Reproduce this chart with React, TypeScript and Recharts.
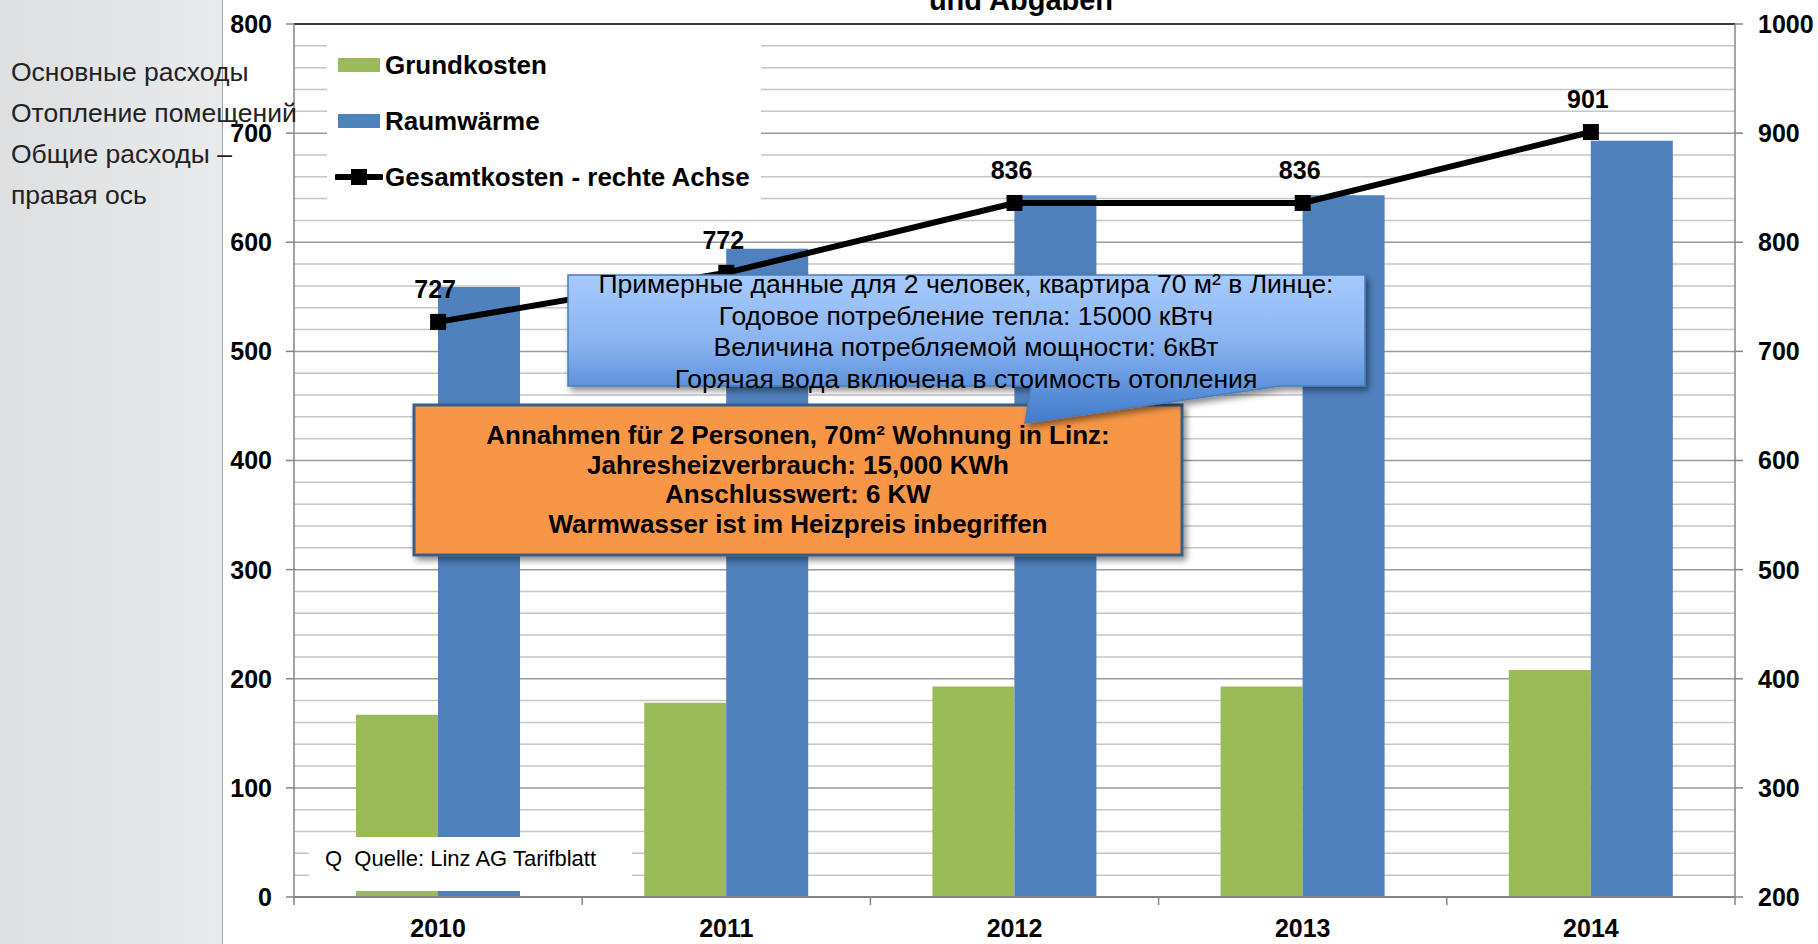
import React from "react";
import {
  ComposedChart,
  Bar,
  Line,
  XAxis,
  YAxis,
  CartesianGrid,
  Legend,
  ReferenceLine,
  LabelList,
} from "recharts";

const YEARS = ["2010", "2011", "2012", "2013", "2014"];
const GRUNDKOSTEN = [167, 178, 193, 193, 208];
const RAUMWAERME = [559, 594, 643, 643, 693];
const GESAMTKOSTEN = [727, 772, 836, 836, 901];

const LEFT_TICKS = [0, 100, 200, 300, 400, 500, 600, 700, 800];
const RIGHT_TICKS = [200, 300, 400, 500, 600, 700, 800, 900, 1000];
// minor grid every 20 on the left axis
const MINOR_GRID = Array.from({ length: 41 }, (_, i) => i * 20).filter((v) => v % 100 !== 0);

const NOTE_RU = [
  "Примерные данные для 2 человек, квартира 70 м² в Линце:",
  "Годовое потребление тепла: 15000 кВтч",
  "Величина потребляемой мощности: 6кВт",
  "Горячая вода включена в стоимость отопления",
];
const NOTE_DE = [
  "Annahmen für 2 Personen, 70m² Wohnung in Linz:",
  "Jahresheizverbrauch: 15,000 KWh",
  "Anschlusswert: 6 KW",
  "Warmwasser ist im Heizpreis inbegriffen",
];
const SIDE_NOTES = ["Основные расходы", "Отопление помещений", "Общие расходы –", "правая ось"];

const FONT = "'Liberation Sans', Arial, sans-serif";
const GREEN = "#9bbb59";
const BLUE = "#4f81bd";
const AXIS = "#868686";

const data = YEARS.map((year, i) => ({
  year,
  grund: GRUNDKOSTEN[i],
  raum: RAUMWAERME[i],
  gesamt: GESAMTKOSTEN[i],
}));

// category label plus Excel-style tick marks on the category borders
const XTick = (props: any) => {
  const { x, y, payload, index, visibleTicksCount } = props;
  const half =
    (payload && payload.offset) ||
    (props.width && visibleTicksCount ? props.width / visibleTicksCount / 2 : 144);
  const last = index === visibleTicksCount - 1;
  return (
    <g>
      <line x1={x - half} x2={x - half} y1={y} y2={y + 8} stroke={AXIS} strokeWidth={1.5} />
      {last && (
        <line x1={x + half} x2={x + half} y1={y} y2={y + 8} stroke={AXIS} strokeWidth={1.5} />
      )}
      <text
        x={x}
        y={y + 40}
        textAnchor="middle"
        fontSize={25}
        fontWeight={700}
        fontFamily={FONT}
        fill="#000"
      >
        {payload.value}
      </text>
    </g>
  );
};

const SquareDot = (props: any) => {
  const { cx, cy } = props;
  if (cx == null || cy == null) return null;
  return <rect x={cx - 8} y={cy - 8} width={16} height={16} fill="#000" />;
};

const LineLabel = (props: any) => {
  const x = props.x ?? props.viewBox?.x;
  const y = props.y ?? props.viewBox?.y;
  return (
    <text
      x={x - 3}
      y={y - 24}
      textAnchor="middle"
      fontSize={25}
      fontWeight={700}
      fontFamily={FONT}
      fill="#000"
    >
      {props.value}
    </text>
  );
};

const renderLegend = (props: any) => {
  // bars first, the line entry last
  const items = [...(props.payload || [])].sort(
    (a: any, b: any) => (a.type === "line" ? 1 : 0) - (b.type === "line" ? 1 : 0)
  );
  return (
    <div
      style={{
        background: "#fff",
        width: 434,
        height: 176,
        paddingTop: 1,
        boxSizing: "border-box",
        fontFamily: FONT,
      }}
    >
      {items.map((entry: any, i: number) => (
        <div key={i} style={{ display: "flex", alignItems: "center", height: 56 }}>
          <svg width={48} height={16} style={{ marginLeft: 8 }}>
            {entry.type === "line" ? (
              <g>
                <line x1={2} x2={46} y1={8} y2={8} stroke="#000" strokeWidth={6} strokeLinecap="round" />
                <rect x={16} y={0} width={16} height={16} fill="#000" />
              </g>
            ) : (
              <rect x={3} y={1} width={42} height={14} fill={entry.color} />
            )}
          </svg>
          <span
            style={{
              marginLeft: 2,
              fontSize: 26,
              fontWeight: 700,
              color: "#000",
              whiteSpace: "nowrap",
            }}
          >
            {entry.value}
          </span>
        </div>
      ))}
    </div>
  );
};

export default function App() {
  return (
    <div
      style={{
        position: "absolute",
        left: 0,
        top: 0,
        width: 1818,
        height: 944,
        overflow: "hidden",
        background: "#fff",
        fontFamily: FONT,
      }}
    >
      <div
        style={{
          position: "absolute",
          left: 0,
          top: 0,
          width: 222,
          height: 944,
          background: "linear-gradient(to right, #dedfe1 0%, #e9eaeb 100%)",
          borderRight: "1px solid #a2a2a2",
        }}
      />
      <div style={{ position: "absolute", left: 0, top: 0 }}>
        <ComposedChart
          width={1818}
          height={944}
          data={data}
          margin={{ top: 24, right: 0, bottom: 0, left: 0 }}
          barGap={0}
        >
          <CartesianGrid
            yAxisId="left"
            vertical={false}
            horizontalValues={MINOR_GRID}
            stroke="#c6c6c6"
            strokeWidth={1.5}
          />
          <CartesianGrid
            yAxisId="left"
            vertical={false}
            horizontalValues={LEFT_TICKS}
            stroke="#9a9a9a"
            strokeWidth={1.5}
          />
          <XAxis
            dataKey="year"
            height={47}
            interval={0}
            tickLine={false}
            tickSize={0}
            tickMargin={0}
            axisLine={{ stroke: AXIS, strokeWidth: 2 }}
            tick={<XTick />}
          />
          <YAxis
            yAxisId="left"
            domain={[0, 800]}
            ticks={LEFT_TICKS}
            interval={0}
            width={294}
            tickSize={8}
            tickMargin={14}
            axisLine={{ stroke: AXIS, strokeWidth: 1.5 }}
            tickLine={{ stroke: AXIS, strokeWidth: 1.5 }}
            tick={{ fontSize: 25, fontWeight: 700, fill: "#000", fontFamily: FONT }}
          />
          <YAxis
            yAxisId="right"
            orientation="right"
            domain={[200, 1000]}
            ticks={RIGHT_TICKS}
            interval={0}
            width={83}
            tickSize={8}
            tickMargin={15}
            axisLine={{ stroke: AXIS, strokeWidth: 1.5 }}
            tickLine={{ stroke: AXIS, strokeWidth: 1.5 }}
            tick={{ fontSize: 25, fontWeight: 700, fill: "#000", fontFamily: FONT }}
          />
          <ReferenceLine yAxisId="left" y={800} stroke="#3c3c3c" strokeWidth={2} />
          <Bar
            yAxisId="left"
            dataKey="grund"
            name="Grundkosten"
            fill={GREEN}
            barSize={82}
            isAnimationActive={false}
          />
          <Bar
            yAxisId="left"
            dataKey="raum"
            name="Raumwärme"
            fill={BLUE}
            barSize={82}
            isAnimationActive={false}
          />
          <Line
            yAxisId="right"
            type="linear"
            dataKey="gesamt"
            name="Gesamtkosten - rechte Achse"
            stroke="#000"
            strokeWidth={6}
            dot={<SquareDot />}
            activeDot={false}
            isAnimationActive={false}
          >
            <LabelList dataKey="gesamt" content={<LineLabel />} />
          </Line>
          <Legend
            layout="vertical"
            align="center"
            verticalAlign="middle"
            width={434}
            height={176}
            content={renderLegend}
            wrapperStyle={{ position: "absolute", left: 327, top: 36, width: 434, height: 176 }}
          />
        </ComposedChart>
      </div>

      <svg
        width={1818}
        height={944}
        style={{ position: "absolute", left: 0, top: 0, pointerEvents: "none" }}
      >
        <defs>
          <linearGradient id="calloutFill" gradientUnits="userSpaceOnUse" x1={0} y1={275} x2={0} y2={423}>
            <stop offset="0" stopColor="#a6cafd" />
            <stop offset="0.45" stopColor="#8bb5f1" />
            <stop offset="0.75" stopColor="#5f93dc" />
            <stop offset="1" stopColor="#437acb" />
          </linearGradient>
          <filter id="shadow" x="-5%" y="-10%" width="115%" height="130%">
            <feDropShadow dx={3} dy={4} stdDeviation={3} floodColor="#000" floodOpacity={0.45} />
          </filter>
        </defs>

        <text
          x={1021}
          y={10}
          textAnchor="middle"
          fontSize={29}
          fontWeight={700}
          fontFamily={FONT}
          fill="#000"
        >
          und Abgaben
        </text>

        {SIDE_NOTES.map((t, i) => (
          <text key={t} x={11} y={81 + i * 41} fontSize={26.5} fontFamily={FONT} fill="#222">
            {t}
          </text>
        ))}

        <rect
          x={414}
          y={405}
          width={768}
          height={150}
          fill="#f79646"
          stroke="#385d8a"
          strokeWidth={3}
          filter="url(#shadow)"
        />
        {NOTE_DE.map((t, i) => (
          <text
            key={t}
            x={798}
            y={444 + i * 29.7}
            textAnchor="middle"
            fontSize={26}
            fontWeight={700}
            fontFamily={FONT}
            fill="#000"
          >
            {t}
          </text>
        ))}

        <path
          d="M568,275 H1365 V386 H1280 L1025,423 L1031,386 H568 Z"
          fill="url(#calloutFill)"
          stroke="#4a7ebb"
          strokeWidth={1.5}
          filter="url(#shadow)"
        />
        {NOTE_RU.map((t, i) => (
          <text
            key={t}
            x={966}
            y={293 + i * 31.7}
            textAnchor="middle"
            fontSize={26.5}
            fontFamily={FONT}
            fill="#000"
          >
            {t}
          </text>
        ))}

        <rect x={309} y={837} width={323} height={54} fill="#fff" />
        <text
          x={325}
          y={866}
          fontSize={22}
          fontFamily={FONT}
          fill="#000"
          style={{ whiteSpace: "pre" }}
        >
          {"Q  Quelle: Linz AG Tarifblatt"}
        </text>
      </svg>
    </div>
  );
}
